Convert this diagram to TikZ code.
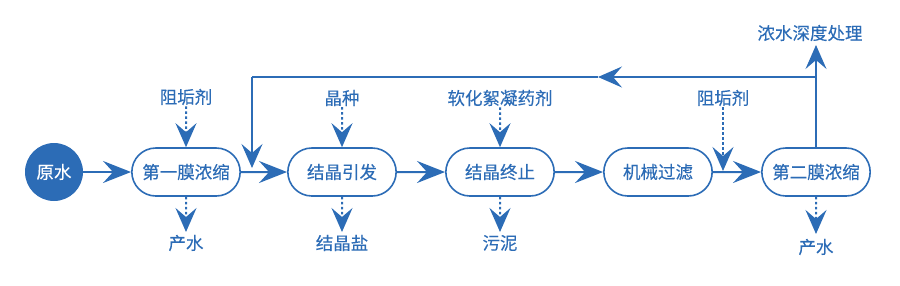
\documentclass[tikz,border=0pt]{standalone}
\usepackage{fontspec}
\setmainfont{Noto Sans CJK SC}[FakeBold=0.2]
\usetikzlibrary{arrows.meta,shapes.misc}
\definecolor{mblue}{RGB}{44,108,182}
\tikzset{
  x=1pt,y=-1pt,
  proc/.style={rounded rectangle,draw=mblue,line width=1.6pt,minimum width=115pt,minimum height=48pt,text=mblue,font=\fontsize{17.5}{19}\selectfont,fill=white},
  lbl/.style={text=mblue,font=\fontsize{17.5}{19}\selectfont,inner sep=1pt},
  bigarrow/.style={-{Stealth[length=28pt,width=22pt,inset=10pt]},draw=mblue,line width=2pt},
  dotarrow/.style={-{Stealth[length=24pt,width=21pt,inset=9pt]},draw=mblue,line width=2pt,dash pattern=on 2.5pt off 2.5pt},
  fbline/.style={draw=mblue,line width=1.3pt},
  fbarrow/.style={-{Stealth[length=24pt,width=21pt,inset=9pt]},draw=mblue,line width=1.3pt},
}
\begin{document}
\begin{tikzpicture}
\useasboundingbox (0,0) rectangle (900,285);
\node[circle,fill=mblue,minimum size=58pt,inner sep=0pt,text=white,font=\fontsize{17.5}{19}\selectfont] (raw) at (54,172) {原水};
\node[proc] (m1) at (186,172) {第一膜浓缩};
\node[proc] (ci) at (342,172) {结晶引发};
\node[proc] (ce) at (500,172) {结晶终止};
\node[proc] (mf) at (658,172) {机械过滤};
\node[proc] (m2) at (816,172) {第二膜浓缩};

\node[lbl] (a1) at (186,97) {阻垢剂};
\node[lbl] (a2) at (342,98) {晶种};
\node[lbl] (a3) at (500,98) {软化絮凝药剂};
\node[lbl] (a4) at (723,98) {阻垢剂};
\node[lbl] (b1) at (186,243) {产水};
\node[lbl] (b2) at (342,243) {结晶盐};
\node[lbl] (b3) at (500,243) {污泥};
\node[lbl] (b4) at (816,247) {产水};
\node[lbl] (top) at (810,33) {浓水深度处理};

\draw[bigarrow] (raw) -- (m1);
\draw[bigarrow] (m1) -- (ci);
\draw[bigarrow] (ci) -- (ce);
\draw[bigarrow] (ce) -- (mf);
\draw[bigarrow] (mf) -- (m2);

\coordinate (j4) at (723,171);
\draw[dotarrow] (a1) -- (m1);
\draw[dotarrow] (a2) -- (ci);
\draw[dotarrow] (a3) -- (ce);
\draw[dotarrow] (a4) -- (j4);
\coordinate (e1) at (186,232);
\coordinate (e2) at (342,232);
\coordinate (e3) at (500,232);
\coordinate (e4) at (816,234);
\draw[dotarrow] (m1) -- (e1);
\draw[dotarrow] (ci) -- (e2);
\draw[dotarrow] (ce) -- (e3);
\draw[dotarrow] (m2) -- (e4);

\coordinate (c1) at (816,77);
\coordinate (mid) at (598,77);
\coordinate (c2) at (252,77);
\coordinate (j1) at (252,168);
\coordinate (tp) at (816,45);
\draw[fbline] (m2.north) -- (c1);
\draw[fbarrow] (c1) -- (tp);
\draw[fbarrow] (c1) -- (mid);
\draw[fbline] (mid) -- (c2);
\draw[fbarrow] (c2) -- (j1);
\end{tikzpicture}
\end{document}
